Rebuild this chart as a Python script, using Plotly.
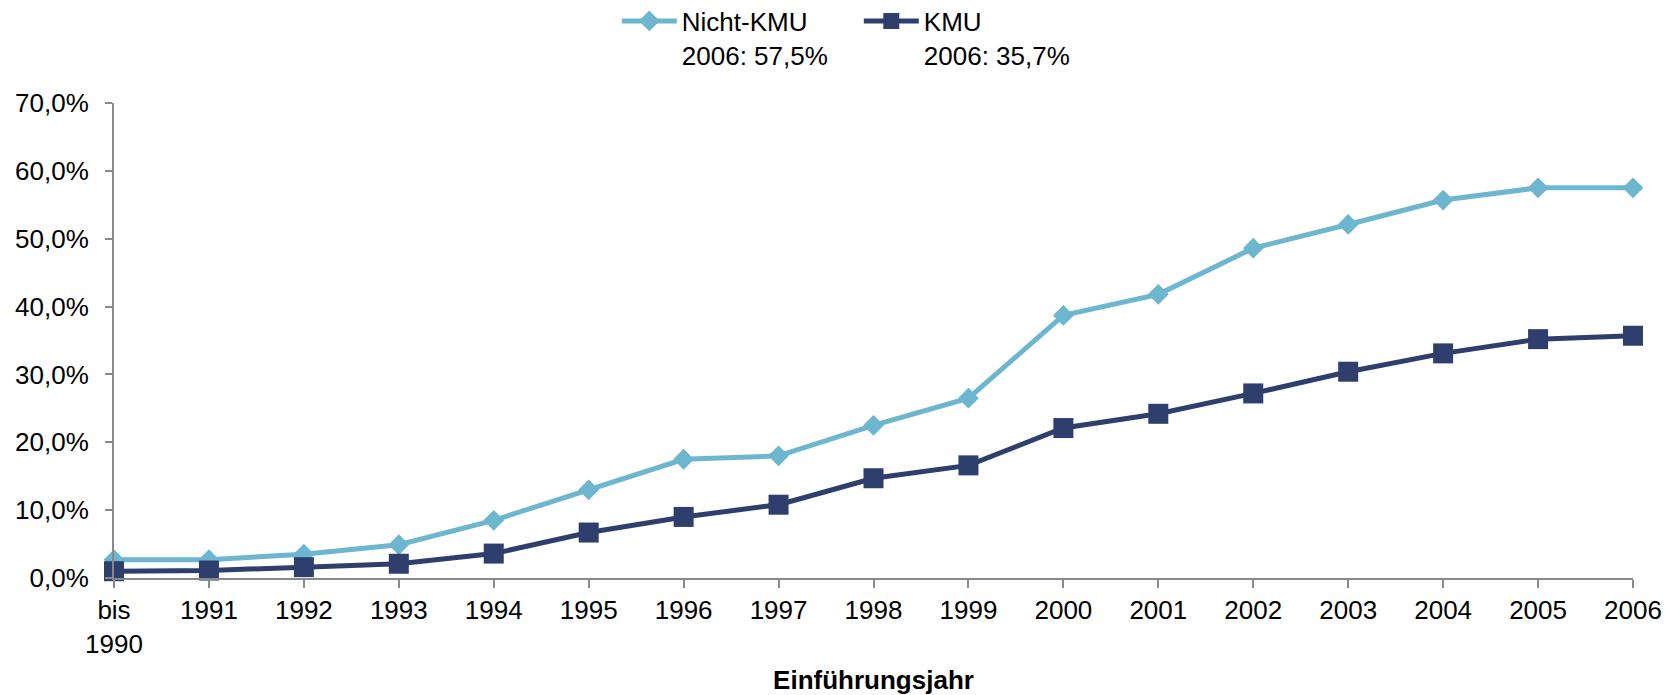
import plotly.graph_objects as go

categories = ["bis<br>1990", "1991", "1992", "1993", "1994", "1995", "1996", "1997", "1998",
              "1999", "2000", "2001", "2002", "2003", "2004", "2005", "2006"]
nicht_kmu = [2.7, 2.7, 3.5, 4.9, 8.5, 13.0, 17.5, 18.0, 22.5, 26.5, 38.7, 41.8, 48.6, 52.1, 55.7, 57.5, 57.5]
kmu = [1.0, 1.1, 1.6, 2.1, 3.6, 6.7, 9.0, 10.8, 14.7, 16.6, 22.1, 24.2, 27.2, 30.4, 33.1, 35.2, 35.7]
names = ["Nicht-KMU<br>2006: 57,5%", "KMU<br>2006: 35,7%"]

LIGHT = "#6DB6CF"
DARK = "#2E3F6E"
AXIS = "#898989"
FONT = "Arial, Liberation Sans, sans-serif"

fig = go.Figure()
fig.add_trace(go.Scatter(x=categories, y=nicht_kmu, name=names[0], mode="lines+markers",
                         line=dict(color=LIGHT, width=5),
                         marker=dict(symbol="diamond", size=16, color=LIGHT),
                         cliponaxis=False))
fig.add_trace(go.Scatter(x=categories, y=kmu, name=names[1], mode="lines+markers",
                         line=dict(color=DARK, width=5),
                         marker=dict(symbol="square", size=20, color=DARK),
                         cliponaxis=False))

fig.update_layout(
    width=1667, height=687,
    margin=dict(l=106, r=42, t=95, b=117, autoexpand=False),
    paper_bgcolor="white", plot_bgcolor="white",
    font=dict(family=FONT, size=26, color="black"),
    separators=", ",
    showlegend=True,
    legend=dict(orientation="h", x=0.331, xanchor="left", y=1.222, yanchor="top",
                yref="paper", valign="top", font=dict(size=26),
                itemwidth=55, entrywidth=172, entrywidthmode="pixels",
                traceorder="normal"),
    xaxis=dict(type="category", range=[0, 16], showline=True, linecolor=AXIS, linewidth=2,
               ticks="outside", tickcolor=AXIS, ticklen=8, tickwidth=2,
               showgrid=False, zeroline=False, automargin=False,
               tickfont=dict(size=26, color="black"), ticklabelstandoff=0,
               title=dict(text="<b>Einführungsjahr</b>", font=dict(size=26), standoff=15)),
    yaxis=dict(range=[0, 70], dtick=10, tickformat=".1f", ticksuffix="%",
               showline=True, linecolor=AXIS, linewidth=2,
               ticks="outside", tickcolor=AXIS, ticklen=7, tickwidth=2,
               showgrid=False, zeroline=False, automargin=False,
               tickfont=dict(size=26, color="black"), ticklabelstandoff=11),
)

fig.write_html("out.html")
